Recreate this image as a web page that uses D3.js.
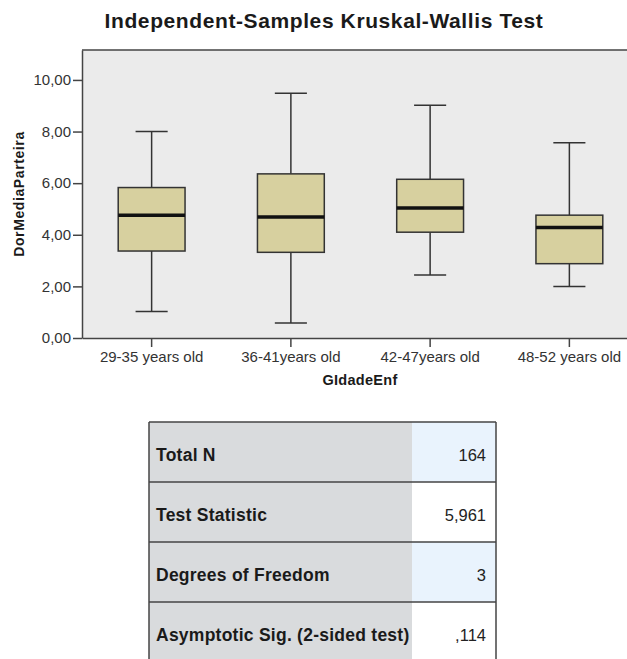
<!DOCTYPE html>
<html><head><meta charset="utf-8">
<script src="https://cdn.jsdelivr.net/npm/d3@7"></script>
<style>body{margin:0;background:#fff;} svg{display:block;font-family:"Liberation Sans",Arial,sans-serif;}</style>
</head><body>
<script>
const categories = ["29-35 years old","36-41years old","42-47years old","48-52 years old"];
const whiskerLow  = [1.03, 0.58, 2.44, 2.00];
const q1          = [3.37, 3.32, 4.10, 2.88];
const medians     = [4.76, 4.69, 5.04, 4.28];
const q3          = [5.83, 6.36, 6.15, 4.76];
const whiskerHigh = [8.00, 9.48, 9.02, 7.57];
const yTicks = [0,2,4,6,8,10];
const tableLabels = ["Total N","Test Statistic","Degrees of Freedom","Asymptotic Sig. (2-sided test)"];
const tableValues = ["164","5,961","3",",114"];

const W=627,H=659;
const svg=d3.select("body").append("svg").attr("width",W).attr("height",H);

const x=d3.scaleBand().domain(categories).range([82,639]).padding(0);
const y=d3.scaleLinear().domain([0,11.16]).range([338,50]);

// title
svg.append("text").attr("x",324).attr("y",28).attr("text-anchor","middle")
  .attr("font-size",21).attr("font-weight","bold").attr("fill","#1a1a1a").attr("letter-spacing",0.6)
  .text("Independent-Samples Kruskal-Wallis Test");

// plot bg
svg.append("rect").attr("x",82).attr("y",y(11.16)).attr("width",W-82).attr("height",y(0)-y(11.16)).attr("fill","#ebebeb");
svg.append("line").attr("x1",82).attr("x2",W).attr("y1",y(11.16)).attr("y2",y(11.16)).attr("stroke","#444").attr("stroke-width",1.5);

const fmt=d=>d3.format(".2f")(d).replace(".",",");
const yAxis=svg.append("g").attr("transform","translate(82,0)")
  .call(d3.axisLeft(y).tickValues(yTicks).tickFormat(fmt).tickSize(9).tickSizeOuter(0));
yAxis.select(".domain").attr("stroke","#444").attr("stroke-width",1.5);
yAxis.selectAll(".tick line").attr("stroke","#444").attr("stroke-width",1.5);
yAxis.selectAll(".tick text").attr("font-size",15).attr("fill","#333").attr("font-family","Liberation Sans, Arial").attr("x",-11);

const xAxis=svg.append("g").attr("transform","translate(0,338)")
  .call(d3.axisBottom(x).tickSize(9).tickSizeOuter(0));
xAxis.select(".domain").attr("stroke","#444").attr("stroke-width",1.5);
xAxis.selectAll(".tick line").attr("stroke","#444").attr("stroke-width",1.5);
xAxis.selectAll(".tick text").attr("font-size",15).attr("fill","#333").attr("font-family","Liberation Sans, Arial").attr("y",13);

svg.append("text").attr("transform","translate(24,194) rotate(-90)").attr("text-anchor","middle")
  .attr("font-size",14).attr("font-weight","bold").attr("fill","#1a1a1a").attr("letter-spacing",0.6).text("DorMediaParteira");
svg.append("text").attr("x",360).attr("y",385).attr("text-anchor","middle")
  .attr("font-size",14.5).attr("font-weight","bold").attr("fill","#1a1a1a").attr("letter-spacing",0.3).text("GIdadeEnf");

// boxes
const bw=x.bandwidth()*0.48, cw=bw*0.48;
const data=categories.map((c,i)=>({c,lo:whiskerLow[i],q1:q1[i],med:medians[i],q3:q3[i],hi:whiskerHigh[i]}));
const g=svg.append("g").selectAll("g").data(data).join("g")
  .attr("transform",d=>`translate(${x(d.c)+x.bandwidth()/2},0)`);
const st="#333";
g.append("line").attr("x1",0).attr("x2",0).attr("y1",d=>y(d.hi)).attr("y2",d=>y(d.q3)).attr("stroke",st).attr("stroke-width",1.5);
g.append("line").attr("x1",0).attr("x2",0).attr("y1",d=>y(d.q1)).attr("y2",d=>y(d.lo)).attr("stroke",st).attr("stroke-width",1.5);
g.append("line").attr("x1",-cw/2).attr("x2",cw/2).attr("y1",d=>y(d.hi)).attr("y2",d=>y(d.hi)).attr("stroke",st).attr("stroke-width",1.5);
g.append("line").attr("x1",-cw/2).attr("x2",cw/2).attr("y1",d=>y(d.lo)).attr("y2",d=>y(d.lo)).attr("stroke",st).attr("stroke-width",1.5);
g.append("rect").attr("x",-bw/2).attr("width",bw).attr("y",d=>y(d.q3)).attr("height",d=>y(d.q1)-y(d.q3))
  .attr("fill","#d7d09f").attr("stroke",st).attr("stroke-width",1.5);
g.append("line").attr("x1",-bw/2).attr("x2",bw/2).attr("y1",d=>y(d.med)).attr("y2",d=>y(d.med)).attr("stroke","#111").attr("stroke-width",3.5);

// table
const tx0=149, tx1=412, tx2=496, ty0=422, rh=60;
const tg=svg.append("g");
tableLabels.forEach((lab,i)=>{
  const yy=ty0+i*rh;
  tg.append("rect").attr("x",tx0).attr("y",yy).attr("width",tx1-tx0).attr("height",rh).attr("fill","#d9dbdd");
  tg.append("rect").attr("x",tx1).attr("y",yy).attr("width",tx2-tx1).attr("height",rh).attr("fill",i%2===0?"#e9f3fd":"#ffffff");
  tg.append("text").attr("x",156).attr("y",yy+rh/2+9).attr("font-size",17.5).attr("font-weight","bold").attr("fill","#1a1a1a").attr("letter-spacing",0.25).text(lab);
  tg.append("text").attr("x",486).attr("y",yy+rh/2+9).attr("text-anchor","end").attr("font-size",16.5).attr("fill","#222").text(tableValues[i]);
  tg.append("line").attr("x1",tx0).attr("x2",tx2).attr("y1",yy).attr("y2",yy).attr("stroke","#444").attr("stroke-width",1.5);
});
tg.append("line").attr("x1",tx0).attr("x2",tx0).attr("y1",ty0).attr("y2",ty0+4*rh).attr("stroke","#444").attr("stroke-width",1.5);
tg.append("line").attr("x1",tx2).attr("x2",tx2).attr("y1",ty0).attr("y2",ty0+4*rh).attr("stroke","#444").attr("stroke-width",1.5);
</script>
</body></html>
